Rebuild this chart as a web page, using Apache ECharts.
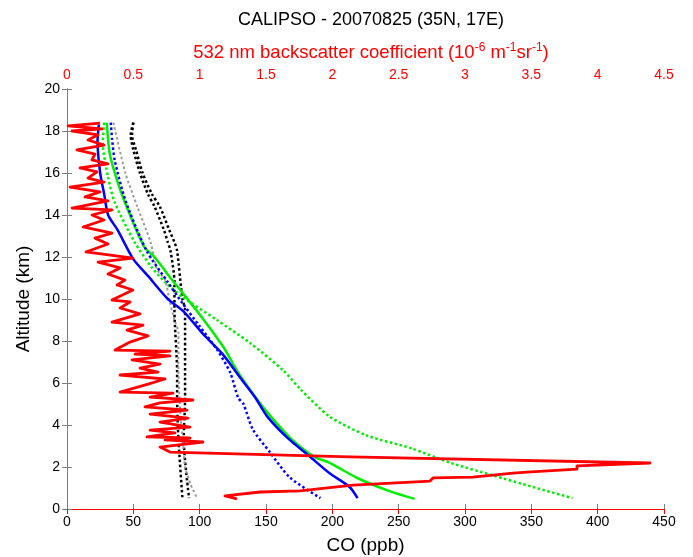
<!DOCTYPE html>
<html><head><meta charset="utf-8">
<script src="https://cdn.jsdelivr.net/npm/echarts@6/dist/echarts.min.js"></script>
<style>html,body{margin:0;padding:0;background:#fff}#c{width:693px;height:557px}</style>
</head><body><div id="c"></div>
<script>
// ---- tick labels ----
var coTicks = [0,50,100,150,200,250,300,350,400,450];
var bsTicks = [0,0.5,1,1.5,2,2.5,3,3.5,4,4.5];
var altTicks = [0,2,4,6,8,10,12,14,16,18,20];

// ---- CO profiles (ppb) vs altitude (km) ----
var blueSolidCO  = [24,23,25,28,31,38,50,61,76,88,103,117,130,142,151,166,183,198,213,219];
var blueSolidAlt = [18.3,17.5,16,15,14,13.3,11.9,11.1,10.0,9.4,8.3,7.4,6.3,5.3,4.4,3.4,2.5,1.7,1.05,0.52];

var blueDotCO  = [33,34,36,44,60,76,87,100,113,123,129,133,140,153,168,191];
var blueDotAlt = [18.4,17.6,16.6,14.7,12.3,10.8,9.8,8.7,7.6,6.5,5.3,5.0,3.8,2.7,1.5,0.52];

var greenSolidCO  = [30,32,36,43,58,66,78,87,102,118,128,140,151,168,186,198,218,241,262];
var greenSolidAlt = [18.4,17,16,14.7,12.5,12.0,11,10.3,9.1,7.7,6.6,5.5,4.6,3.4,2.5,2.2,1.5,0.9,0.48];

var greenDotCO  = [28,27,31,36,51,64,74,87,113,138,163,176,198,226,259,289,321,351,381];
var greenDotAlt = [18.4,17.4,15.8,14.6,12.7,11.5,10.8,10.1,9.0,7.9,6.6,5.7,4.4,3.5,2.9,2.2,1.6,1.05,0.52];

var grayDotCO  = [35,44,53,63,68,74,77,81,84,84,85,88,89,93,98];
var grayDotAlt = [18.4,16,14.4,12.7,11.4,10.9,10,9.0,8.4,7.0,5.0,2.7,2.0,1.2,0.52];

var blackDot1CO  = [50,48,50,55,61,66,73,76,78,81,81,83,83,84,87];
var blackDot1Alt = [18.4,17.8,17.1,16,15,14.4,13.3,12.7,12.3,10.8,9.5,6.5,5.3,3.3,0.52];

var blackDot2CO  = [50,49,52,57,64,70,77,81,83,87,89,89,89,88,92];
var blackDot2Alt = [18.4,17.8,17.1,16,15,14.4,13.3,12.7,12.3,10,9.5,6.3,5.3,3.3,0.52];

// ---- 532 nm backscatter (1e-6 m^-1 sr^-1) vs altitude (km) ----
var bsValues = [0.249,0.008,0.264,0.038,0.234,0.158,0.279,0.075,0.211,0.188,0.309,0.098,0.226,0.158,0.279,0.023,0.249,0.136,0.309,0.038,0.339,0.188,0.279,0.121,0.339,0.211,0.309,0.143,0.497,0.234,0.400,0.309,0.437,0.377,0.497,0.339,0.475,0.400,0.550,0.339,0.573,0.452,0.611,0.475,0.362,0.776,0.513,0.776,0.490,0.701,0.550,0.686,0.400,0.739,0.611,0.400,0.799,0.626,0.950,0.701,0.588,0.905,0.626,0.912,0.701,0.927,0.626,0.814,0.603,0.927,0.739,1.025,0.701,0.776,2.133,4.394,3.844,3.844,3.467,3.362,3.060,2.759,2.736,2.156,1.756,1.455,1.191,1.281];
var bsAlt = [18.38,18.24,18.10,18.0,17.81,17.57,17.33,17.10,16.90,16.62,16.43,16.24,16.05,15.76,15.57,15.33,15.10,14.86,14.67,14.33,14.24,14.0,13.76,13.43,13.14,12.90,12.62,12.24,11.95,11.76,11.48,11.19,10.90,10.67,10.43,9.95,9.86,9.57,9.29,8.90,8.76,8.52,8.24,7.95,7.57,7.52,7.38,7.29,7.10,6.90,6.71,6.52,6.38,6.19,5.95,5.57,5.52,5.33,5.19,5.05,4.86,4.71,4.52,4.33,4.14,3.90,3.76,3.62,3.43,3.38,3.29,3.19,2.95,2.71,2.48,2.19,2.05,1.90,1.76,1.71,1.52,1.48,1.33,1.14,0.86,0.81,0.62,0.48];

function pairs(xs, ys){ return xs.map(function(v,i){ return [v, ys[i]]; }); }

var FONT = 'Liberation Sans';
var axisGray = '#7f7f7f';

function coSeries(name, xs, ys, color, dotted, width){
  return {
    name: name, type: 'line', xAxisIndex: 0, yAxisIndex: 0,
    data: pairs(xs, ys), showSymbol: false, symbol: 'none', smooth: 0.25,
    lineStyle: { color: color, width: width, type: dotted ? [2.5, 2.5] : 'solid', cap: 'butt' },
    silent: true, animation: false, z: 2
  };
}

var chart = echarts.init(document.getElementById('c'), null, {renderer: 'canvas'});
chart.setOption({
  animation: false,
  backgroundColor: '#fff',
  title: [{
    text: 'CALIPSO - 20070825 (35N, 17E)', left: 366, top: 6, textAlign: 'center',
    textStyle: { fontFamily: FONT, fontSize: 18, fontWeight: 'normal', color: '#000' }
  }, {
    text: '532 nm backscatter coefficient (10{sup|-6} m{sup|-1}sr{sup|-1})', left: 366, top: 37, textAlign: 'center',
    textStyle: { fontFamily: FONT, fontSize: 18.5, fontWeight: 'normal', color: '#ff0000',
      rich: { sup: { fontFamily: FONT, fontSize: 12, color: '#ff0000', padding: [0,0,9,0] } } }
  }],
  grid: { left: 67, right: 29, top: 89, bottom: 48, containLabel: false, outerBoundsMode: 'none' },
  xAxis: [{
    type: 'value', position: 'bottom', min: 0, max: 450, interval: 50,
    name: 'CO (ppb)', nameLocation: 'middle', nameGap: 27,
    nameTextStyle: { fontFamily: FONT, fontSize: 19, color: '#000' },
    axisLine: { show: true, lineStyle: { color: axisGray, width: 1 } },
    axisTick: { show: true, inside: true, length: 5, lineStyle: { color: axisGray } },
    axisLabel: { fontFamily: FONT, fontSize: 14, color: '#000', margin: 6,
      formatter: function(v){ return coTicks.indexOf(v) >= 0 ? String(v) : ''; } },
    splitLine: { show: false }
  }, {
    type: 'value', position: 'top', min: 0, max: 4.5, interval: 0.5,
    axisLine: { show: true, lineStyle: { color: '#ff0000', width: 1 } },
    axisTick: { show: true, inside: true, length: 5, lineStyle: { color: '#ff0000' } },
    axisLabel: { fontFamily: FONT, fontSize: 14, color: '#ff0000', margin: 7,
      formatter: function(v){ var r = Math.round(v*10)/10; return bsTicks.indexOf(r) >= 0 ? String(r) : ''; } },
    splitLine: { show: false }
  }],
  yAxis: [{
    type: 'value', position: 'left', min: 0, max: 20, interval: 2,
    name: 'Altitude (km)', nameLocation: 'middle', nameGap: 30, nameRotate: 90,
    nameTextStyle: { fontFamily: FONT, fontSize: 19, color: '#000' },
    axisLine: { show: true, lineStyle: { color: axisGray, width: 1 } },
    axisTick: { show: true, inside: true, length: 5, lineStyle: { color: axisGray } },
    axisLabel: { fontFamily: FONT, fontSize: 14, color: '#000', margin: 7,
      formatter: function(v){ return altTicks.indexOf(v) >= 0 ? String(v) : ''; } },
    splitLine: { show: false }
  }, {
    type: 'value', position: 'right', min: 0, max: 20, interval: 2,
    axisLine: { show: true, lineStyle: { color: axisGray, width: 1 } },
    axisTick: { show: true, inside: true, length: 5, lineStyle: { color: axisGray } },
    axisLabel: { show: false }, splitLine: { show: false }
  }],
  series: [
    coSeries('black1', blackDot1CO, blackDot1Alt, '#000000', true, 2.5),
    coSeries('black2', blackDot2CO, blackDot2Alt, '#000000', true, 2.5),
    coSeries('gray', grayDotCO, grayDotAlt, '#9a9a9a', true, 2),
    coSeries('greenDot', greenDotCO, greenDotAlt, '#00ee00', true, 2.5),
    coSeries('greenSolid', greenSolidCO, greenSolidAlt, '#00ee00', false, 2.5),
    coSeries('blueDot', blueDotCO, blueDotAlt, '#0000ff', true, 2.5),
    coSeries('blueSolid', blueSolidCO, blueSolidAlt, '#0000ff', false, 2.5),
    {
      name: 'backscatter', type: 'line', xAxisIndex: 1, yAxisIndex: 0,
      data: pairs(bsValues, bsAlt), showSymbol: false, symbol: 'none', smooth: false,
      lineStyle: { color: '#ff0000', width: 2.8, join: 'round' }, silent: true, z: 3
    }
  ]
});
</script></body></html>
